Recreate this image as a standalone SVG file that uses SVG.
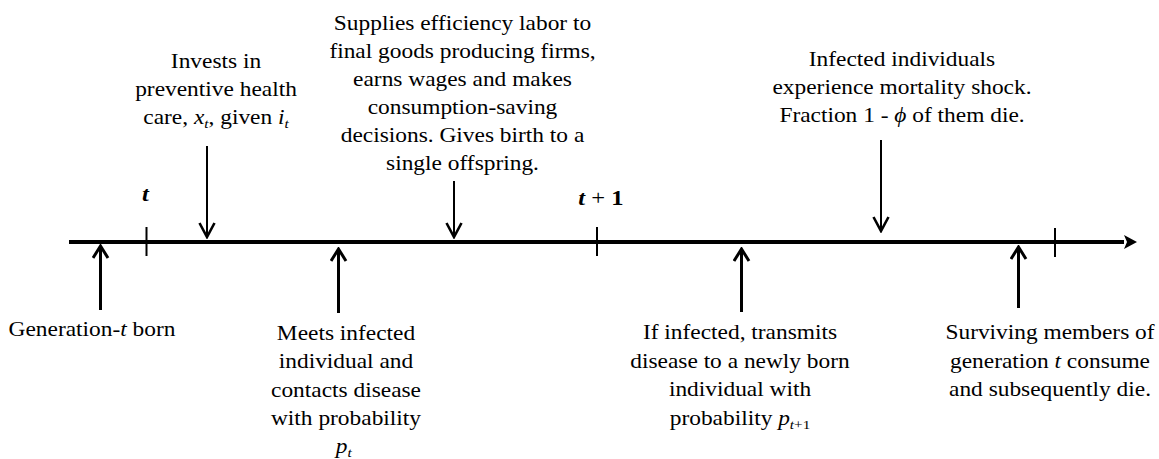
<svg xmlns="http://www.w3.org/2000/svg" width="1159" height="459" viewBox="0 0 1159 459">
  <style>
    .lbl { font-family: "Liberation Serif", "Times New Roman", serif; font-size: 20px; fill: #000; text-anchor: middle; }
    .it { font-style: italic; }
    .sub { font-size: 13px; font-style: italic; }
    .mark { font-family: "Liberation Serif", "Times New Roman", serif; font-size: 21px; font-weight: bold; fill: #000; text-anchor: middle; }
    .tick { stroke: #000; stroke-width: 2; }
    .down { stroke: #000; stroke-width: 2; fill: none; marker-end: url(#vhead); }
    .up { stroke: #000; stroke-width: 3; fill: none; marker-end: url(#vhead-up); }
  </style>
  <defs>
    <marker id="vhead" viewBox="-16 -9 18 18" refX="0" refY="0" markerWidth="18" markerHeight="18" markerUnits="userSpaceOnUse" orient="auto">
      <path d="M-14,-7.5 L0,0 L-14,7.5" fill="none" stroke="#000" stroke-width="2.6"/>
    </marker>
    <marker id="vhead-up" viewBox="-16 -9 18 18" refX="0" refY="0" markerWidth="18" markerHeight="18" markerUnits="userSpaceOnUse" orient="auto">
      <path d="M-12,-7.5 L0,0 L-12,7.5" fill="none" stroke="#000" stroke-width="3"/>
    </marker>
    <marker id="axishead" viewBox="-14 -8 15 16" refX="0" refY="0" markerWidth="15" markerHeight="16" markerUnits="userSpaceOnUse" orient="auto">
      <path d="M-13,-7 L0,0 L-13,7 L-9,0 Z" fill="#000"/>
    </marker>
  </defs>

  <!-- time axis with period ticks -->
  <g id="axis">
    <line x1="69" y1="242" x2="1124" y2="242" stroke="#000" stroke-width="4"/>
    <path d="M1137,242 L1124,235 L1127,242 L1124,249 Z" fill="#000"/>
    <line class="tick" x1="146.5" y1="227" x2="146.5" y2="256"/>
    <line class="tick" x1="597" y1="227" x2="597" y2="256"/>
    <line class="tick" x1="1055" y1="228" x2="1055" y2="257"/>
    <g transform="translate(145.5 0) scale(1.17 1)">
      <text class="mark" x="0" y="201"><tspan font-style="italic">t</tspan></text>
    </g>
    <g transform="translate(601 0) scale(1.17 1)">
      <text class="mark" x="0" y="205"><tspan font-style="italic">t</tspan><tspan font-weight="normal"> + </tspan>1</text>
    </g>
  </g>

  <!-- event labels above the axis -->
  <g id="invests" transform="translate(216 0) scale(1.17 1)">
    <text class="lbl" x="0" y="68">Invests in</text>
    <text class="lbl" x="0" y="96">preventive health</text>
    <text class="lbl" x="0" y="124">care, <tspan class="it">x</tspan><tspan class="sub" dy="4">t</tspan><tspan dy="-4">, given </tspan><tspan class="it">i</tspan><tspan class="sub" dy="4">t</tspan></text>
  </g>

  <g id="supplies" transform="translate(462.5 0) scale(1.17 1)">
    <text class="lbl" x="0" y="30.5">Supplies efficiency labor to</text>
    <text class="lbl" x="0" y="58.5">final goods producing firms,</text>
    <text class="lbl" x="0" y="86.5">earns wages and makes</text>
    <text class="lbl" x="0" y="114.5">consumption-saving</text>
    <text class="lbl" x="0" y="142.5">decisions. Gives birth to a</text>
    <text class="lbl" x="0" y="170.5">single offspring.</text>
  </g>

  <g id="mortality" transform="translate(902 0) scale(1.17 1)">
    <text class="lbl" x="0" y="66.5">Infected individuals</text>
    <text class="lbl" x="0" y="94.5">experience mortality shock.</text>
    <text class="lbl" x="0" y="122.5">Fraction 1 - <tspan class="it">ϕ</tspan> of them die.</text>
  </g>

  <!-- event labels below the axis -->
  <g id="generation" transform="translate(92 0) scale(1.17 1)">
    <text class="lbl" x="0" y="336">Generation-<tspan class="it">t</tspan> born</text>
  </g>

  <g id="meets" transform="translate(346 0) scale(1.17 1)">
    <text class="lbl" x="0" y="340">Meets infected</text>
    <text class="lbl" x="0" y="368.5">individual and</text>
    <text class="lbl" x="0" y="397">contacts disease</text>
    <text class="lbl" x="0" y="425">with probability</text>
    <text class="lbl" x="-2" y="453"><tspan class="it">p</tspan><tspan class="sub" dy="4">t</tspan></text>
  </g>

  <g id="transmits" transform="translate(740 0) scale(1.17 1)">
    <text class="lbl" x="0" y="339">If infected, transmits</text>
    <text class="lbl" x="0" y="368">disease to a newly born</text>
    <text class="lbl" x="0" y="396.5">individual with</text>
    <text class="lbl" x="0" y="425">probability <tspan class="it">p</tspan><tspan class="sub" dy="4">t</tspan><tspan font-size="13px" font-style="normal">+1</tspan></text>
  </g>

  <g id="surviving" transform="translate(1050 0) scale(1.17 1)">
    <text class="lbl" x="0" y="339">Surviving members of</text>
    <text class="lbl" x="0" y="368">generation <tspan class="it">t</tspan> consume</text>
    <text class="lbl" x="0" y="396.5">and subsequently die.</text>
  </g>

  <!-- arrows pointing at moments on the axis -->
  <g id="connectors">
    <line class="down" x1="207" y1="146" x2="207" y2="237"/>
    <line class="down" x1="454" y1="181" x2="454" y2="237"/>
    <line class="down" x1="881" y1="140" x2="881" y2="231"/>
    <line class="up" x1="100.5" y1="310" x2="100.5" y2="246"/>
    <line class="up" x1="338.5" y1="313" x2="338.5" y2="249"/>
    <line class="up" x1="741.5" y1="312" x2="741.5" y2="249"/>
    <line class="up" x1="1018.5" y1="308" x2="1018.5" y2="247"/>
  </g>
</svg>
